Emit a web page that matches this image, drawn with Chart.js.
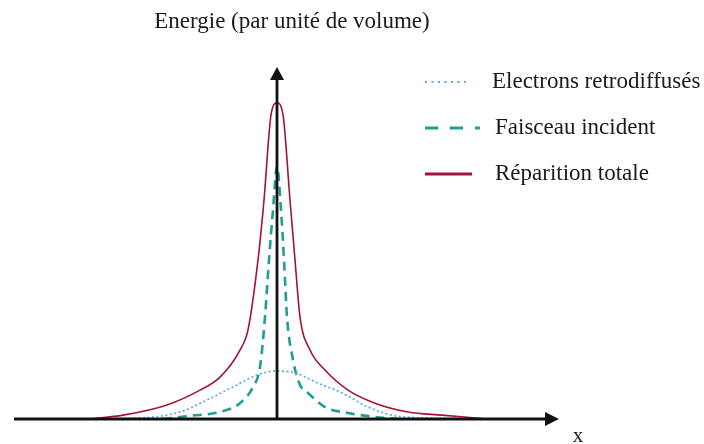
<!DOCTYPE html>
<html>
<head>
<meta charset="utf-8">
<script src="https://cdn.jsdelivr.net/npm/chart.js@4.4.1/dist/chart.umd.min.js"></script>
<style>
html,body{margin:0;padding:0;background:#fff;}
#wrap{width:704px;height:444px;position:relative;}
</style>
</head>
<body>
<div id="wrap"><canvas id="c" width="704" height="444"></canvas></div>
<script>
// Data (x in arbitrary position units, y in arbitrary energy units)
const backscatterX = [-11.2,-6.85,-4.85,-3.5,-2.2,-1.0,-0.1,0.9,2.05,3.25,4.55,5.75,7.4,11.55];
const backscatterY = [0,0.3,2.0,5.4,9.1,12.5,13.6,13.1,10.2,7.4,3.4,1.1,0.3,0];

const beamX = [-5.7,-4.35,-2.85,-1.85,-1.2,-0.85,-0.6,-0.4,-0.2,0,0.2,0.35,0.5,0.8,1.15,1.55,2.4,3.55,4.9,6.05];
const beamY = [0,0.9,2.0,4.5,9.1,14.8,29,45.2,59.4,71.9,59.4,45.2,29,16.8,9.7,7.4,3.4,1.7,0.6,0];

const totalX = [-9.35,-7.7,-5.5,-3.85,-2.85,-1.85,-1.45,-0.95,-0.65,-0.3,0,0.3,0.65,0.9,1.15,1.65,2.4,3.55,4.9,6.55,8.25,10.55];
const totalY = [0,1.1,4.0,8.2,11.9,19.6,25.3,45.2,62.2,86.4,89.8,86.4,62.2,45.2,29,19.6,13.9,8.2,4.5,2.0,1.1,0];

const seriesLabels = ["Electrons retrodiffusés","Faisceau incident","Réparition totale"];
const titleText = "Energie (par unité de volume)";
const xAxisLabel = "x";

const pts = (xs, ys) => xs.map((x,i)=>({x:x,y:ys[i]}));

const SERIF = '"Liberation Serif","DejaVu Serif",serif';

const legendStyles = [
  {width:2.2, dash:[2,4.5], end:468},
  {width:3, dash:[13,12], end:480},
  {width:3, dash:[], end:472}
];

const axesPlugin = {
  id:'customAxes',
  afterDatasetsDraw(chart){
    const ctx = chart.ctx;
    const xs = chart.scales.x, ys = chart.scales.y;
    const x0 = xs.getPixelForValue(0);
    const y0 = ys.getPixelForValue(0);
    const left = xs.left, right = xs.right, top = ys.top;
    ctx.save();
    ctx.strokeStyle = '#111';
    ctx.fillStyle = '#111';
    ctx.lineWidth = 2.8;
    // horizontal axis
    ctx.beginPath(); ctx.moveTo(left, y0); ctx.lineTo(right-12, y0); ctx.stroke();
    ctx.beginPath(); ctx.moveTo(right, y0); ctx.lineTo(right-14, y0-7); ctx.lineTo(right-14, y0+7); ctx.closePath(); ctx.fill();
    // vertical axis
    ctx.beginPath(); ctx.moveTo(x0, y0); ctx.lineTo(x0, top+10); ctx.stroke();
    ctx.beginPath(); ctx.moveTo(x0, top); ctx.lineTo(x0-7, top+13); ctx.lineTo(x0+7, top+13); ctx.closePath(); ctx.fill();
    // texts
    ctx.fillStyle = '#1a1a1a';
    ctx.font = '23px ' + SERIF;
    ctx.textBaseline = 'middle';
    ctx.textAlign = 'center';
    ctx.fillText(titleText, 292, 22);
    ctx.font = '21px ' + SERIF;
    ctx.fillText(xAxisLabel, right+19, y0+17);
    // legend
    const legendY = [82,128,174];
    const textX = [492,495,495];
    chart.data.datasets.forEach((ds,i)=>{
      const st = legendStyles[i];
      ctx.save();
      ctx.strokeStyle = ds.borderColor;
      ctx.lineWidth = st.width;
      ctx.setLineDash(st.dash);
      ctx.beginPath(); ctx.moveTo(425, legendY[i]); ctx.lineTo(st.end, legendY[i]); ctx.stroke();
      ctx.restore();
      ctx.textAlign = 'left';
      ctx.font = '23px ' + SERIF;
      ctx.fillText(ds.label, textX[i], legendY[i]);
    });
    ctx.restore();
  }
};

new Chart(document.getElementById('c'), {
  type:'line',
  data:{
    datasets:[
      {label:seriesLabels[0], data:pts(backscatterX,backscatterY), borderColor:'#5aa9ea', borderWidth:1.7, borderDash:[2,2.5], pointRadius:0, cubicInterpolationMode:'monotone', fill:false},
      {label:seriesLabels[1], data:pts(beamX,beamY), borderColor:'#1f9e98', borderWidth:2.6, borderDash:[9,6], pointRadius:0, cubicInterpolationMode:'monotone', fill:false},
      {label:seriesLabels[2], data:pts(totalX,totalY), borderColor:'#a2143c', borderWidth:1.6, pointRadius:0, cubicInterpolationMode:'monotone', fill:false}
    ]
  },
  options:{
    responsive:false,
    animation:false,
    layout:{padding:{left:14, right:145, top:67, bottom:25}},
    scales:{
      x:{type:'linear', min:-13.15, max:14.1, display:false},
      y:{type:'linear', min:0, max:100, display:false}
    },
    plugins:{legend:{display:false}, title:{display:false}, tooltip:{enabled:false}}
  },
  plugins:[axesPlugin]
});
</script>
</body>
</html>
